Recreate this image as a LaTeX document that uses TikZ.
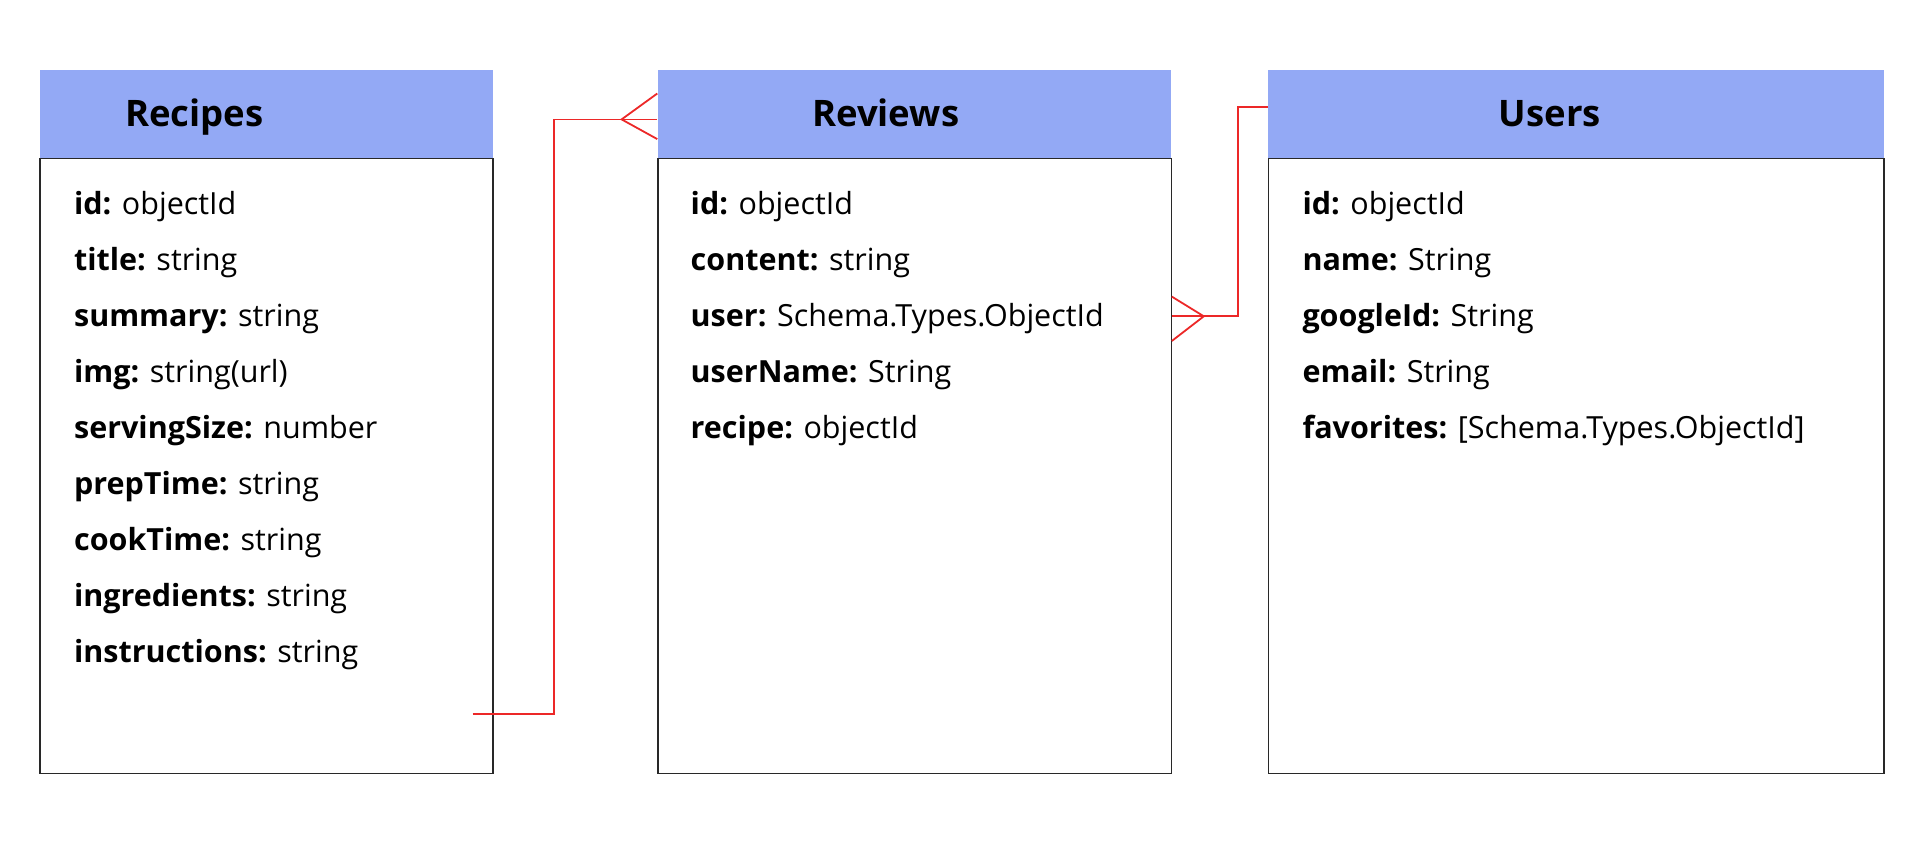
\documentclass[tikz,border=0pt]{standalone}
\usepackage{fontspec}
\setmainfont{Open Sans}
\definecolor{hdrblue}{RGB}{147,169,245}
\definecolor{relred}{RGB}{236,40,40}
\definecolor{boxline}{RGB}{40,40,40}
\begin{document}
\begin{tikzpicture}[x=1pt,y=-1pt,
  hdr/.style={fill=hdrblue, draw=none, inner sep=0pt, anchor=north west},
  body/.style={draw=boxline, line width=1.2pt, inner sep=0pt, anchor=north west},
  title/.style={font=\fontsize{36.5}{42}\selectfont\bfseries, inner sep=0pt, anchor=base},
  field/.style={font=\fontsize{30.5}{36}\selectfont, anchor=base west, inner sep=0pt},
  rel/.style={draw=relred, line width=1.8pt}]
\useasboundingbox (0,0) rectangle (1930,859);
% Recipes
\node[hdr, minimum width=453pt, minimum height=87.4pt] (rech) at (39.4,70.2) {};
\node[body, minimum width=453pt, minimum height=615.4pt] (recb) at (39.4,157.6) {};
\node[title] (rect) at (194.5,126) {Recipes};
\foreach \i/\k/\v in {0/id/objectId,1/title/string,2/summary/string,3/img/string(url),4/servingSize/number,5/prepTime/string,6/cookTime/string,7/ingredients/string,8/instructions/string}
  \node[field] (recf\i) at (73.9,214+56*\i) {\textbf{\k:} \v};
% Reviews
\node[hdr, minimum width=513.3pt, minimum height=87.4pt] (revh) at (657.3,70.2) {};
\node[body, minimum width=513.3pt, minimum height=615.4pt] (revb) at (657.3,157.6) {};
\node[title] (revt) at (885.6,126) {Reviews};
\foreach \i/\k/\v in {0/id/objectId,1/content/string,2/user/Schema.Types.ObjectId,3/userName/String,4/recipe/objectId}
  \node[field] (revf\i) at (690.5,214+56*\i) {\textbf{\k:} \v};
% Users
\node[hdr, minimum width=615.5pt, minimum height=87.4pt] (usrh) at (1267.8,70.2) {};
\node[body, minimum width=615.5pt, minimum height=615.4pt] (usrb) at (1267.8,157.6) {};
\node[title] (usrt) at (1549.7,126) {Users};
\foreach \i/\k/\v in {0/id/objectId,1/name/String,2/googleId/String,3/email/String,4/favorites/{[Schema.Types.ObjectId]}}
  \node[field] (usrf\i) at (1302.3,214+56*\i) {\textbf{\k:} \v};
% relation Recipes -> Reviews
\coordinate (r1s) at (472.7,713.9);
\coordinate (r1a) at (621.6,119.4);
\draw[rel] (r1s) -| (553.9,119.4) -- (r1a) -- (revh.west |- r1a);
\draw[rel] (revh.west |- 0,93.5) -- (r1a) -- (revh.west |- 0,139.1);
% relation Reviews -> Users
\coordinate (r2a) at (1203.8,316.3);
\draw[rel] (revb.east |- r2a) -- (1238.3,316.3) |- (usrh.west |- 0,107.1);
\draw[rel] (revb.east |- 0,296.6) -- (r2a) -- (revb.east |- 0,341);
\end{tikzpicture}
\end{document}
